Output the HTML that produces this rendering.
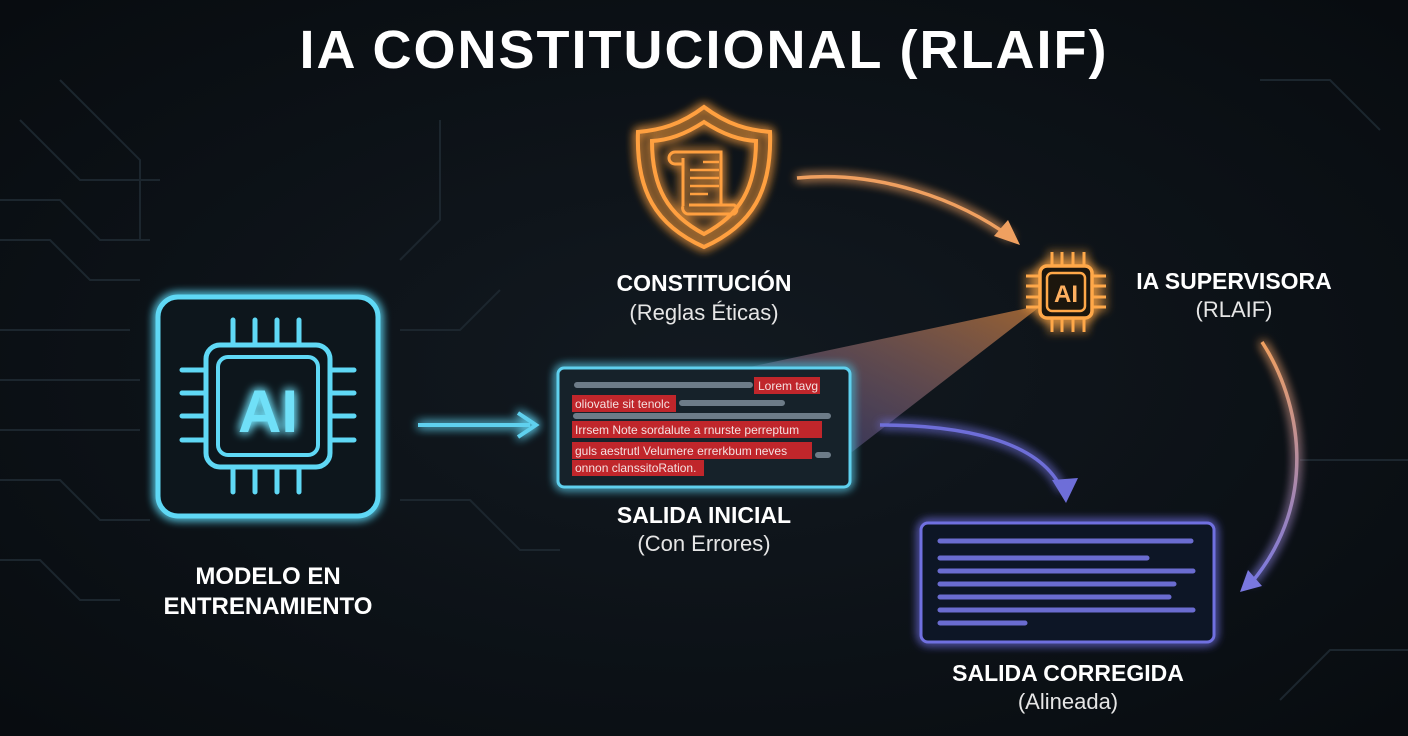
<!DOCTYPE html>
<html><head><meta charset="utf-8"><style>
body{margin:0;width:1408px;height:736px;overflow:hidden;background:#0a0f14;font-family:"Liberation Sans",sans-serif}
svg{position:absolute;left:0;top:0}
</style></head><body>
<svg width="1408" height="736" viewBox="0 0 1408 736">
<defs>
<radialGradient id="bg" cx="50%" cy="50%" r="70%"><stop offset="0" stop-color="#121920"/><stop offset="1" stop-color="#080c10"/></radialGradient>
<filter id="g" filterUnits="userSpaceOnUse" x="0" y="0" width="1408" height="736"><feGaussianBlur stdDeviation="5" result="b"/><feMerge><feMergeNode in="b"/><feMergeNode in="b"/><feMergeNode in="SourceGraphic"/></feMerge></filter>
<linearGradient id="beam" x1="1" y1="0" x2="0" y2="1"><stop offset="0" stop-color="#ff9a40" stop-opacity="0.9"/><stop offset="1" stop-color="#6a6ad8" stop-opacity="0.5"/></linearGradient>
<linearGradient id="arc" x1="0" y1="0" x2="0" y2="1"><stop offset="0" stop-color="#f0a060"/><stop offset="1" stop-color="#7a78e0"/></linearGradient>
</defs>
<rect width="1408" height="736" fill="url(#bg)"/>
<g stroke="#1c262e" stroke-width="2" fill="none">
<path d="M0,200 H60 L100,240 H150"/><path d="M0,240 H50 L90,280 H140"/><path d="M0,330 H130"/><path d="M0,380 H140"/><path d="M0,430 H140"/><path d="M0,480 H60 L100,520 H150"/><path d="M0,560 H40 L80,600 H120"/>
<path d="M20,120 L80,180 H160"/><path d="M60,80 L140,160 V240"/><path d="M400,330 H460 L500,290"/><path d="M400,500 H470 L520,550 H560"/><path d="M400,260 L440,220 V120"/><path d="M1260,80 H1330 L1380,130"/><path d="M1300,460 H1408"/><path d="M1280,700 L1330,650 H1408"/>
</g>
<text x="704" y="68" text-anchor="middle" font-size="54" font-weight="bold" letter-spacing="2" fill="#fff">IA CONSTITUCIONAL (RLAIF)</text>
<polygon points="1042,305 745,368 852,452" fill="url(#beam)" opacity="0.65"/>
<g stroke="#5fd8f5" fill="none" filter="url(#g)">
<rect x="158" y="297" width="220" height="219" rx="20" stroke-width="5" fill="#08131a"/>
<rect x="206" y="345" width="124" height="122" rx="14" stroke-width="5"/>
<rect x="218" y="357" width="100" height="98" rx="10" stroke-width="4"/>
<path stroke-width="5" stroke-linecap="round" d="M233,320V343M255,320V343M277,320V343M299,320V343M233,469V492M255,469V492M277,469V492M299,469V492M182,370H204M182,393H204M182,416H204M182,440H204M332,370H354M332,393H354M332,416H354M332,440H354"/>
</g>
<text x="268" y="432" text-anchor="middle" font-size="60" font-weight="bold" fill="#6fe0f8" filter="url(#g)">AI</text>
<text x="268" y="584" text-anchor="middle" font-size="24" font-weight="bold" fill="#fff">MODELO EN</text>
<text x="268" y="614" text-anchor="middle" font-size="24" font-weight="bold" fill="#fff">ENTRENAMIENTO</text>
<g filter="url(#g)"><path d="M418,425 H530" stroke="#5fd0ee" stroke-width="4"/>
<path d="M518,413 L536,425 L518,437" stroke="#5fd0ee" stroke-width="4" fill="none"/></g>
<rect x="558" y="368" width="292" height="119" rx="6" fill="#12202b" stroke="#5fd0ee" stroke-width="3" filter="url(#g)"/>
<g stroke="#6d7c88" stroke-width="6" stroke-linecap="round"><path d="M577,385H750M682,403H782M576,416H828M818,455H828"/></g>
<g fill="#c0262b"><rect x="754" y="377" width="66" height="17"/><rect x="572" y="395" width="104" height="17"/><rect x="572" y="421" width="250" height="17"/><rect x="572" y="442" width="240" height="17"/><rect x="572" y="460" width="132" height="16"/></g>
<g font-size="12" fill="#f4e0e0"><text x="758" y="390">Lorem tavg</text><text x="575" y="408">oliovatie sit tenolc</text><text x="575" y="434">Irrsem Note sordalute a rnurste perreptum</text><text x="575" y="455">guls aestrutl Velumere errerkbum neves</text><text x="575" y="472">onnon clanssitoRation.</text></g>
<text x="704" y="523" text-anchor="middle" font-size="23" font-weight="bold" fill="#fff">SALIDA INICIAL</text>
<text x="704" y="551" text-anchor="middle" font-size="22" fill="#e6e6e6">(Con Errores)</text>
<g stroke="#ffa040" fill="none" stroke-width="4" filter="url(#g)">
<path d="M704,107 C680,125 660,130 638,132 C636,190 655,225 704,247 C753,225 772,190 770,132 C748,130 728,125 704,107Z"/>
<path d="M704,122 C684,135 668,140 652,141 C652,188 668,215 704,234 C740,215 756,188 756,141 C740,140 724,135 704,122Z"/>
<g stroke-width="3">
<path d="M675,152 a5,5 0 0 0 0,12 h8"/>
<path d="M675,152 H721 V206"/>
<path d="M683,158 V206"/>
<path d="M683,206 a6,6 0 0 0 6,8 H734 a5,5 0 0 0 0,-9 H689"/>
</g>
<path d="M703,162H719M690,170H719M690,178H719M690,186H719M690,194H708" stroke-width="2.5"/>
</g>
<text x="704" y="291" text-anchor="middle" font-size="23" font-weight="bold" fill="#fff">CONSTITUCIÓN</text>
<text x="704" y="320" text-anchor="middle" font-size="22" fill="#e6e6e6">(Reglas Éticas)</text>
<path d="M797,178 C880,170 960,200 1012,238" stroke="#f0a060" stroke-width="3.5" fill="none" filter="url(#g)"/>
<path d="M994,236 L1020,245 L1008,220Z" fill="#f0a060"/>
<g stroke="#ffa848" fill="none" filter="url(#g)">
<rect x="1040" y="266" width="52" height="52" rx="7" stroke-width="3.5" fill="#1a120a"/>
<rect x="1047" y="273" width="38" height="38" rx="5" stroke-width="2.5"/>
<path d="M1052,252V265M1062,252V265M1073,252V265M1084,252V265M1052,319V332M1062,319V332M1073,319V332M1084,319V332M1026,276H1039M1026,286H1039M1026,297H1039M1026,307H1039M1093,276H1106M1093,286H1106M1093,297H1106M1093,307H1106" stroke-width="3"/>
</g>
<text x="1066" y="302" text-anchor="middle" font-size="24" font-weight="bold" fill="#ffb060">AI</text>
<text x="1234" y="289" text-anchor="middle" font-size="23" font-weight="bold" fill="#fff">IA SUPERVISORA</text>
<text x="1234" y="317" text-anchor="middle" font-size="22" fill="#e6e6e6">(RLAIF)</text>
<path d="M880,425 C960,425 1040,440 1062,490" stroke="#6e6ed8" stroke-width="3.5" fill="none" filter="url(#g)"/>
<path d="M1052,480 L1066,503 L1078,478Z" fill="#6e6ed8"/>
<path d="M1262,342 C1300,400 1320,500 1252,582" stroke="url(#arc)" stroke-width="3.5" fill="none" filter="url(#g)"/>
<path d="M1240,592 L1262,586 L1248,570Z" fill="#7a78e0"/>
<rect x="921" y="523" width="293" height="119" rx="7" fill="#0f1228" stroke="#6f70e0" stroke-width="3" filter="url(#g)"/>
<g stroke="#6a6cd0" stroke-width="5" stroke-linecap="round"><path d="M940,541H1191M940,558H1147M940,571H1193M940,584H1174M940,597H1169M940,610H1193M940,623H1025"/></g>
<text x="1068" y="681" text-anchor="middle" font-size="23" font-weight="bold" fill="#fff">SALIDA CORREGIDA</text>
<text x="1068" y="709" text-anchor="middle" font-size="22" fill="#e6e6e6">(Alineada)</text>
</svg>
</body></html>
